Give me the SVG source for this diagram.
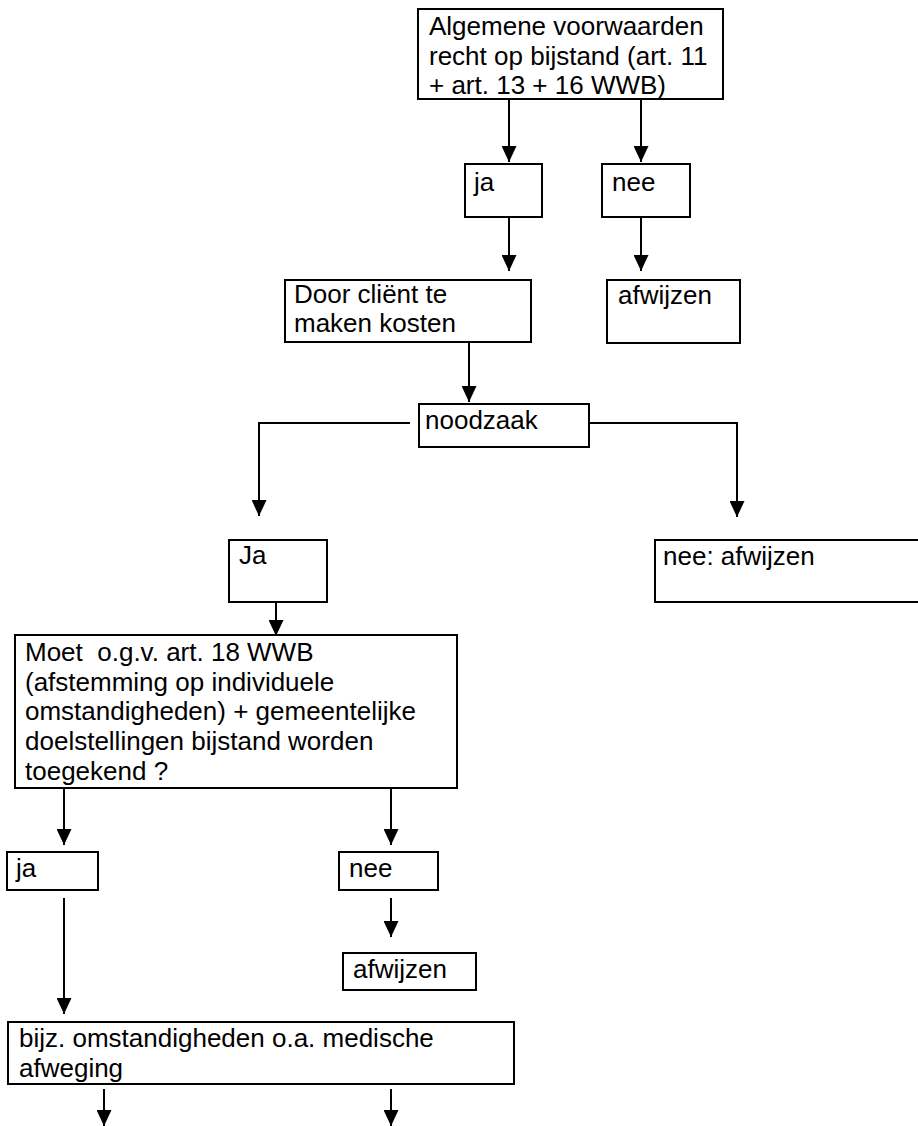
<svg xmlns="http://www.w3.org/2000/svg" width="918" height="1126" viewBox="0 0 918 1126">
<style>
.box{fill:#fff;stroke:#000;stroke-width:2}
.t{font-family:"Liberation Sans",Arial,sans-serif;font-size:26px;fill:#000}
.c{fill:none;stroke:#000;stroke-width:2}
</style>
<defs>
<marker id="ah" markerUnits="userSpaceOnUse" viewBox="0 0 16 15" refX="16" refY="7.5" markerWidth="16" markerHeight="15" orient="auto">
<path d="M0,0 L16,7.5 L0,15 Z" fill="#000"/>
</marker>
</defs>
<rect width="918" height="1126" fill="#fff"/>
<g id="connectors">
<path class="c" d="M509,100 V162" marker-end="url(#ah)"/>
<path class="c" d="M641,100 V162" marker-end="url(#ah)"/>
<path class="c" d="M509,214 V271" marker-end="url(#ah)"/>
<path class="c" d="M641,214 V271" marker-end="url(#ah)"/>
<path class="c" d="M469,342 V402" marker-end="url(#ah)"/>
<path class="c" d="M410,423 H259 V516" marker-end="url(#ah)"/>
<path class="c" d="M583,423 H737 V517" marker-end="url(#ah)"/>
<path class="c" d="M276,600 V636" marker-end="url(#ah)"/>
<path class="c" d="M64,788 V845" marker-end="url(#ah)"/>
<path class="c" d="M391,788 V845" marker-end="url(#ah)"/>
<path class="c" d="M391,898 V937" marker-end="url(#ah)"/>
<path class="c" d="M64,898 V1014" marker-end="url(#ah)"/>
<path class="c" d="M104,1089 V1126" marker-end="url(#ah)"/>
<path class="c" d="M391,1089 V1126" marker-end="url(#ah)"/>
</g>
<g id="n-algemeen">
<rect class="box" x="418" y="9" width="305" height="90"/>
<text class="t" x="429" y="35">Algemene voorwaarden</text>
<text class="t" x="429" y="64.5">recht op bijstand (art. 11</text>
<text class="t" x="429" y="94">+ art. 13 + 16 WWB)</text>
</g>
<g id="n-ja1">
<rect class="box" x="465" y="164" width="77" height="53"/>
<text class="t" x="474" y="191">ja</text>
</g>
<g id="n-nee1">
<rect class="box" x="602" y="164" width="88" height="53"/>
<text class="t" x="612" y="191">nee</text>
</g>
<g id="n-door">
<rect class="box" x="285" y="280" width="246" height="62"/>
<text class="t" x="294" y="303">Door cliënt te</text>
<text class="t" x="294" y="332">maken kosten</text>
</g>
<g id="n-afwijzen1">
<rect class="box" x="607" y="280" width="133" height="63"/>
<text class="t" x="618" y="304">afwijzen</text>
</g>
<g id="n-noodzaak">
<rect class="box" x="419" y="404" width="170" height="43"/>
<text class="t" x="425" y="429">noodzaak</text>
</g>
<g id="n-ja2">
<rect class="box" x="229" y="540" width="98" height="62"/>
<text class="t" x="239" y="564">Ja</text>
</g>
<g id="n-nee-afwijzen">
<rect class="box" x="655" y="540" width="270" height="62"/>
<text class="t" x="663" y="565">nee: afwijzen</text>
</g>
<g id="n-moet">
<rect class="box" x="15" y="635" width="442" height="153"/>
<text class="t" x="25" y="661" xml:space="preserve">Moet  o.g.v. art. 18 WWB</text>
<text class="t" x="25" y="690.5">(afstemming op individuele</text>
<text class="t" x="25" y="720">omstandigheden) + gemeentelijke</text>
<text class="t" x="25" y="750">doelstellingen bijstand worden</text>
<text class="t" x="25" y="780">toegekend ?</text>
</g>
<g id="n-ja3">
<rect class="box" x="7" y="852" width="91" height="38"/>
<text class="t" x="16" y="877">ja</text>
</g>
<g id="n-nee3">
<rect class="box" x="339" y="852" width="99" height="38"/>
<text class="t" x="349" y="877">nee</text>
</g>
<g id="n-afwijzen3">
<rect class="box" x="343" y="953" width="133" height="37"/>
<text class="t" x="353" y="978">afwijzen</text>
</g>
<g id="n-bijz">
<rect class="box" x="8" y="1022" width="506" height="62"/>
<text class="t" x="19" y="1047">bijz. omstandigheden o.a. medische</text>
<text class="t" x="19" y="1077">afweging</text>
</g>
</svg>
